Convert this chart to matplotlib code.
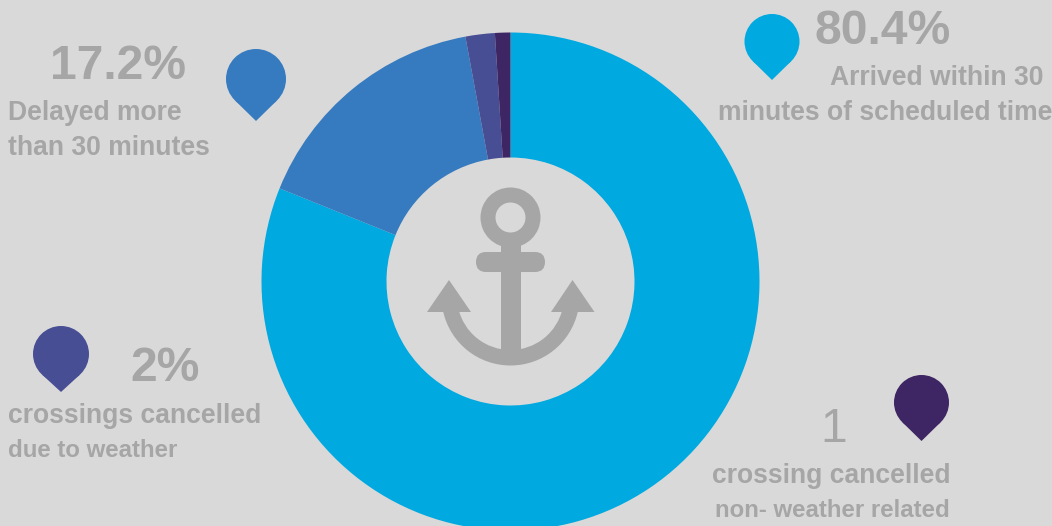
import numpy as np
from matplotlib import pyplot as plt
from matplotlib.patches import Circle, FancyBboxPatch, Polygon, Rectangle, Wedge

# slices as drawn (clockwise from 12 o'clock), they differ a bit from the printed labels
shares = [81.1, 16.0, 1.9, 1.0]
slice_colors = ['#00a9e0', '#367bc0', '#484e94', '#3e2563']
big_labels = ['80.4%', '17.2%', '2%', '1']
small_labels = [
    ['Arrived within 30', 'minutes of scheduled time'],
    ['Delayed more', 'than 30 minutes'],
    ['crossings cancelled', 'due to weather'],
    ['crossing cancelled', 'non- weather related'],
]

BG = '#d9d9d9'
GREY = '#a6a6a6'
CX, CY = 510.5, 281.5

plt.rcParams['font.family'] = ['Liberation Sans', 'DejaVu Sans']

fig = plt.figure(figsize=(10.52, 5.26), dpi=100, facecolor=BG)
ax = fig.add_axes([0, 0, 1, 1])
ax.set_facecolor(BG)

# y axis runs downward so everything below is in image pixels
ax.pie(shares, colors=slice_colors, startangle=270, counterclock=True,
       center=(CX, CY), radius=249,
       wedgeprops=dict(width=125, linewidth=0))
ax.set_xlim(0, 1052)
ax.set_ylim(526, 0)
ax.set_aspect('equal')
ax.axis('off')


def pin(x, y, r, tip_y, color):
    # round head with a pointed tip, sides tangent to the circle
    d = tip_y - y
    a = np.arccos(r / d)
    sx, sy = r * np.sin(a), r * np.cos(a)
    ax.add_patch(Circle((x, y), r, fc=color, lw=0))
    ax.add_patch(Polygon([(x - sx, y + sy), (x, tip_y), (x + sx, y + sy)], fc=color, lw=0))


pin(772, 41.5, 27.5, 80, slice_colors[0])
pin(256, 79, 30, 121, slice_colors[1])
pin(61, 354, 28, 392, slice_colors[2])
pin(921.5, 402.5, 27.5, 441, slice_colors[3])

# anchor in the hole
ax.add_patch(Wedge((CX, 217.5), 30, 0, 360, width=15, fc=GREY, lw=0))
ax.add_patch(Rectangle((CX - 10, 240), 20, 122, fc=GREY, lw=0))
ax.add_patch(FancyBboxPatch((486, 262), 49, 0.01, boxstyle='round,pad=10,rounding_size=10',
                            fc=GREY, lw=0))
ax.add_patch(Wedge((CX, 296.5), 69, 13, 167, width=15.5, fc=GREY, lw=0))
ax.add_patch(Polygon([(427, 312), (449, 280), (471, 312)], fc=GREY, lw=0))
ax.add_patch(Polygon([(551, 312), (572.5, 280), (594.5, 312)], fc=GREY, lw=0))

BIG = 34.6
SMALL = 19.1
SMALLER = 17.3
txt = dict(color=GREY, fontweight='bold', va='baseline')

ax.text(815, 44, big_labels[0], fontsize=BIG, ha='left', **txt)
ax.text(1044, 85, small_labels[0][0], fontsize=SMALL, ha='right', **txt)
ax.text(1052, 120, small_labels[0][1], fontsize=SMALL, ha='right', **txt)

ax.text(50, 79, big_labels[1], fontsize=BIG, ha='left', **txt)
ax.text(8, 120, small_labels[1][0], fontsize=SMALL, ha='left', **txt)
ax.text(8, 155, small_labels[1][1], fontsize=SMALL, ha='left', **txt)

ax.text(130, 381, big_labels[2], fontsize=BIG, ha='left', **txt)
ax.text(8, 423, small_labels[2][0], fontsize=SMALL, ha='left', **txt)
ax.text(8, 457, small_labels[2][1], fontsize=SMALLER, ha='left', **txt)

ax.text(820, 442, big_labels[3], fontsize=BIG, ha='left', color=GREY, va='baseline')
ax.text(950, 483, small_labels[3][0], fontsize=SMALL, ha='right', **txt)
ax.text(950, 517, small_labels[3][1], fontsize=SMALLER, ha='right', **txt)

fig.savefig('out.png', dpi=100, facecolor=BG)
